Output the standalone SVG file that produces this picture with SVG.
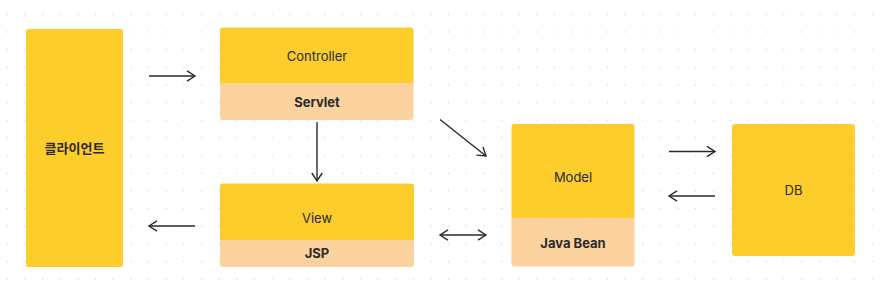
<svg xmlns="http://www.w3.org/2000/svg" width="881" height="286" viewBox="0 0 881 286">
<defs>
<pattern id="dots" x="6.8" y="13.8" width="17.65" height="17.65" patternUnits="userSpaceOnUse">
<rect x="0" y="0" width="1.1" height="1.1" fill="#c9c9c9"/>
</pattern>
<marker id="ah" viewBox="0 0 12 12" refX="10" refY="6" markerWidth="12" markerHeight="12" markerUnits="userSpaceOnUse" orient="auto-start-reverse">
<path d="M2,0.8 L10,6 L2,11.2" fill="none" stroke="#2a2a2a" stroke-width="1.4"/>
</marker>
</defs>
<style>
.main{fill:#fdcd2b}
.sub{fill:#fcd29e}
.t{font-family:Inter,"Noto Sans CJK KR",sans-serif;font-size:13px;fill:#2a2a2a;text-anchor:middle;dominant-baseline:central}
.b{font-weight:700}
.c{stroke:#2a2a2a;stroke-width:1.4;fill:none}
</style>
<rect width="881" height="286" fill="#ffffff"/>
<rect width="881" height="286" fill="url(#dots)"/>
<g id="client">
<rect class="main" x="26" y="29" width="97" height="238" rx="3"/>
<text class="t b" x="74.5" y="148">클라이언트</text>
</g>
<g id="controller">
<path class="main" d="M223,27.5 H410.5 a3,3 0 0 1 3,3 V83 H220 V30.5 a3,3 0 0 1 3,-3 Z"/>
<path class="sub" d="M220,83 H413.5 V117 a3,3 0 0 1 -3,3 H223 a3,3 0 0 1 -3,-3 Z"/>
<text class="t" x="317" y="56">Controller</text>
<text class="t b" x="317" y="102">Servlet</text>
</g>
<g id="view">
<path class="main" d="M223,183.5 H411 a3,3 0 0 1 3,3 V240 H220 V186.5 a3,3 0 0 1 3,-3 Z"/>
<path class="sub" d="M220,240 H414 V264 a3,3 0 0 1 -3,3 H223 a3,3 0 0 1 -3,-3 Z"/>
<text class="t" x="317" y="218">View</text>
<text class="t b" x="317" y="253">JSP</text>
</g>
<g id="model">
<path class="main" d="M514.5,124 H631.5 a3,3 0 0 1 3,3 V218 H511.5 V127 a3,3 0 0 1 3,-3 Z"/>
<path class="sub" d="M511.5,218 H634.5 V263.5 a3,3 0 0 1 -3,3 H514.5 a3,3 0 0 1 -3,-3 Z"/>
<text class="t" x="573" y="177">Model</text>
<text class="t b" x="573" y="243">Java Bean</text>
</g>
<g id="db">
<rect class="main" x="732" y="124" width="123" height="132" rx="3"/>
<text class="t" x="793.5" y="190">DB</text>
</g>
<g id="connectors">
<line class="c" x1="149" y1="76" x2="195" y2="76" marker-end="url(#ah)"/>
<line class="c" x1="317" y1="122" x2="317" y2="181" marker-end="url(#ah)"/>
<line class="c" x1="195" y1="226" x2="149" y2="226" marker-end="url(#ah)"/>
<line class="c" x1="440" y1="235" x2="486" y2="235" marker-start="url(#ah)" marker-end="url(#ah)"/>
<line class="c" x1="440" y1="119.5" x2="486" y2="156" marker-end="url(#ah)"/>
<line class="c" x1="669" y1="151.5" x2="715" y2="151.5" marker-end="url(#ah)"/>
<line class="c" x1="715" y1="196" x2="669" y2="196" marker-end="url(#ah)"/>
</g>
</svg>
